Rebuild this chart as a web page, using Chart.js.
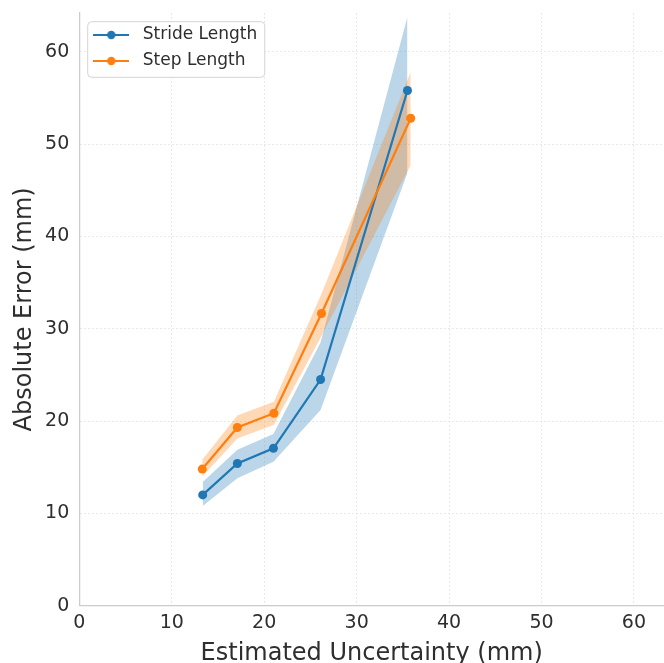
<!DOCTYPE html>
<html>
<head>
<meta charset="utf-8">
<script src="https://cdn.jsdelivr.net/npm/chart.js@4.4.1/dist/chart.umd.min.js"></script>
<style>
  html, body { margin: 0; padding: 0; background: #ffffff; overflow: hidden; }
  canvas { display: block; }
</style>
</head>
<body>
<canvas id="c" width="664" height="663"></canvas>
<script>
// ---- Data ----
const seriesNames = ['Stride Length', 'Step Length'];

const strideX    = [13.35, 17.1, 21.0, 26.1, 35.5];
const strideMean = [12.0, 15.4, 17.05, 24.5, 55.8];
const strideLow  = [10.8, 13.8, 15.6, 21.2, 46.9];
const strideHigh = [13.4, 16.9, 18.6, 28.5, 63.8];

const stepX      = [13.3, 17.1, 21.05, 26.2, 35.85];
const stepMean   = [14.8, 19.3, 20.85, 31.65, 52.8];
const stepLow    = [14.0, 18.1, 19.6, 29.2, 47.7];
const stepHigh   = [15.8, 20.6, 22.1, 33.8, 57.8];

const xTickStep = 10;
const yTickStep = 10;
const xMax = 63.25;
const yMax = 64.2;

const xTitle = 'Estimated Uncertainty (mm)';
const yTitle = 'Absolute Error (mm)';

// ---- Styles ----
const BLUE = '#1f77b4';
const ORANGE = '#ff7f0e';
const BLUE_FILL = 'rgba(31,119,180,0.30)';
const ORANGE_FILL = 'rgba(255,127,14,0.30)';
const TEXT = '#2e2e2e';
const FONT = "'DejaVu Sans', 'Liberation Sans', sans-serif";

const pts = (xs, ys) => xs.map((x, i) => ({ x: x, y: ys[i] }));

function legendIcon(color) {
  const c = document.createElement('canvas');
  c.width = 36; c.height = 12;
  const g = c.getContext('2d');
  g.strokeStyle = color; g.lineWidth = 2.2;
  g.beginPath(); g.moveTo(0, 6); g.lineTo(36, 6); g.stroke();
  g.fillStyle = color;
  g.beginPath(); g.arc(18, 6, 4.2, 0, Math.PI * 2); g.fill();
  return c;
}
const icons = [legendIcon(BLUE), legendIcon(ORANGE)];

const bandStyle = (fillColor) => ({
  borderWidth: 0, pointRadius: 0, pointHoverRadius: 0,
  backgroundColor: fillColor, borderColor: 'rgba(0,0,0,0)', tension: 0
});
const lineStyle = (color) => ({
  borderColor: color, backgroundColor: color, borderWidth: 2.2,
  pointRadius: 4.5, pointBackgroundColor: color, pointBorderColor: color,
  pointBorderWidth: 0, fill: false, tension: 0
});

const LEGEND_PAD = 9;
const legendFrame = {
  id: 'legendFrame',
  afterLayout(chart) {
    const lg = chart.legend, ca = chart.chartArea;
    if (!lg) return;
    lg.left = ca.left;
    lg.top = ca.top + 4.5;
    lg.right = ca.right;
    lg.bottom = ca.bottom;
    if (!lg.__wrapped) {
      const orig = lg.draw;
      lg.draw = function () {
        const ctx = chart.ctx, a = chart.chartArea;
        ctx.save();
        ctx.font = '17px ' + FONT;
        let w = 0;
        seriesNames.forEach(n => { w = Math.max(w, ctx.measureText(n).width); });
        const x0 = a.left + 8.4, y0 = a.top + 8.7;
        const textX = this.left + LEGEND_PAD + 46 + 8.5;
        const bw = textX + w + 7.5 - x0, bh = 55.6, r = 4;
        ctx.beginPath();
        ctx.moveTo(x0 + r, y0);
        ctx.arcTo(x0 + bw, y0, x0 + bw, y0 + bh, r);
        ctx.arcTo(x0 + bw, y0 + bh, x0, y0 + bh, r);
        ctx.arcTo(x0, y0 + bh, x0, y0, r);
        ctx.arcTo(x0, y0, x0 + bw, y0, r);
        ctx.closePath();
        ctx.fillStyle = '#ffffff';
        ctx.fill();
        ctx.strokeStyle = '#d4d4d4';
        ctx.lineWidth = 1;
        ctx.stroke();
        ctx.restore();
        return orig.apply(this, arguments);
      };
      lg.__wrapped = true;
    }
  }
};

const chart = new Chart(document.getElementById('c'), {
  type: 'line',
  data: {
    datasets: [
      Object.assign({ label: 'stride-high', data: pts(strideX, strideHigh), fill: '+1', order: 3 }, bandStyle(BLUE_FILL)),
      Object.assign({ label: 'stride-low', data: pts(strideX, strideLow), fill: false, order: 3 }, bandStyle(BLUE_FILL)),
      Object.assign({ label: 'step-high', data: pts(stepX, stepHigh), fill: '+1', order: 2 }, bandStyle(ORANGE_FILL)),
      Object.assign({ label: 'step-low', data: pts(stepX, stepLow), fill: false, order: 2 }, bandStyle(ORANGE_FILL)),
      Object.assign({ label: seriesNames[0], data: pts(strideX, strideMean), order: 1 }, lineStyle(BLUE)),
      Object.assign({ label: seriesNames[1], data: pts(stepX, stepMean), order: 0 }, lineStyle(ORANGE))
    ]
  },
  options: {
    responsive: false,
    animation: false,
    devicePixelRatio: 1,
    layout: { autoPadding: false, padding: { top: 13, right: 0, bottom: 0, left: 0 } },
    plugins: {
      tooltip: { enabled: false },
      filler: { propagate: false },
      legend: {
        display: true,
        position: 'chartArea',
        align: 'start',
        labels: {
          usePointStyle: true,
          pointStyleWidth: 46,
          padding: LEGEND_PAD,
          textAlign: 'left',
          color: TEXT,
          font: { family: FONT, size: 17 },
          filter: (item) => item.datasetIndex >= 4,
          sort: (a, b) => a.datasetIndex - b.datasetIndex,
          generateLabels(chart) {
            const items = Chart.defaults.plugins.legend.labels.generateLabels(chart);
            items.forEach(it => {
              if (it.datasetIndex >= 4) it.pointStyle = icons[it.datasetIndex - 4];
            });
            return items;
          }
        }
      }
    },
    scales: {
      x: {
        type: 'linear',
        min: 0,
        max: xMax,
        afterFit(scale) {
          scale.height = 663 - 605.7;
          scale.paddingLeft = 0; scale.paddingRight = 0;
        },
        grid: { color: '#e2e2e2', lineWidth: 1, drawTicks: false },
        border: { display: true, color: '#cccccc', width: 1.25, dash: [1.5, 2.5] },
        ticks: {
          stepSize: xTickStep, includeBounds: false, padding: 8,
          color: TEXT, font: { family: FONT, size: 19, lineHeight: 1 }
        },
        title: {
          display: true, text: xTitle, color: TEXT,
          font: { family: FONT, size: 24, lineHeight: 1 },
          padding: { top: 0, bottom: -3 }
        }
      },
      y: {
        type: 'linear',
        min: 0,
        max: yMax,
        afterFit(scale) {
          scale.width = 79.3;
          scale.paddingTop = 0; scale.paddingBottom = 0;
        },
        grid: { color: '#e2e2e2', lineWidth: 1, drawTicks: false },
        border: { display: true, color: '#cccccc', width: 1.25, dash: [1.5, 2.5] },
        ticks: {
          stepSize: yTickStep, includeBounds: false, padding: 10,
          color: TEXT, font: { family: FONT, size: 19, lineHeight: 1 }
        },
        title: {
          display: true, text: yTitle, color: TEXT,
          font: { family: FONT, size: 24, lineHeight: 1 },
          padding: { top: 13, bottom: 0 }
        }
      }
    }
  },
  plugins: [legendFrame]
});
</script>
</body>
</html>
